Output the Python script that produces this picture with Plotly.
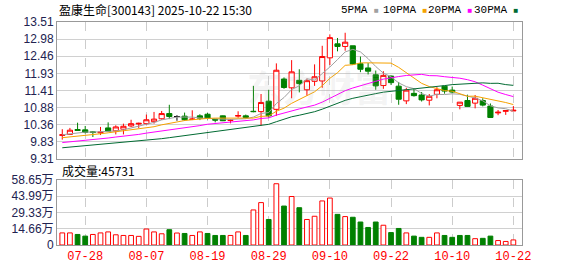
import plotly.graph_objects as go
import numpy as np

dates = [
    "2025-07-23", "2025-07-24", "2025-07-25", "2025-07-28", "2025-07-29", "2025-07-30", "2025-07-31",
    "2025-08-01", "2025-08-04", "2025-08-05", "2025-08-06", "2025-08-07", "2025-08-08", "2025-08-11",
    "2025-08-12", "2025-08-13", "2025-08-14", "2025-08-15", "2025-08-18", "2025-08-19", "2025-08-20",
    "2025-08-21", "2025-08-22", "2025-08-25", "2025-08-26", "2025-08-27", "2025-08-28", "2025-08-29",
    "2025-09-01", "2025-09-02", "2025-09-03", "2025-09-04", "2025-09-05", "2025-09-08", "2025-09-09",
    "2025-09-10", "2025-09-11", "2025-09-12", "2025-09-15", "2025-09-16", "2025-09-17", "2025-09-18",
    "2025-09-19", "2025-09-22", "2025-09-23", "2025-09-24", "2025-09-25", "2025-09-26", "2025-09-29",
    "2025-09-30", "2025-10-09", "2025-10-10", "2025-10-13", "2025-10-14", "2025-10-15", "2025-10-16",
    "2025-10-17", "2025-10-20", "2025-10-21", "2025-10-22",
]

open_ = [10.03, 10.06, 10.21, 10.20, 10.14, 10.11, 10.26, 10.17, 10.22, 10.32,
         10.38, 10.39, 10.45, 10.54, 10.70, 10.61, 10.62, 10.52, 10.63, 10.68,
         10.52, 10.63, 10.49, 10.62, 10.63, 10.77, 10.76, 11.08, 10.83, 11.76,
         11.49, 11.72, 11.43, 11.69, 11.70, 12.41, 12.84, 12.76, 12.78, 12.23,
         12.10, 11.89, 11.56, 11.85, 11.54, 11.09, 11.32, 11.27, 11.11, 11.29,
         11.54, 11.42, 10.95, 11.10, 11.02, 11.10, 10.93, 10.72, 10.77, 10.78]
high = [10.22, 10.26, 10.42, 10.32, 10.16, 10.29, 10.43, 10.34, 10.39, 10.51,
        10.42, 10.67, 10.75, 10.78, 10.97, 10.65, 10.73, 10.80, 10.68, 10.72,
        10.53, 10.64, 10.53, 10.77, 10.67, 11.55, 11.30, 11.43, 12.24, 11.81,
        12.34, 12.06, 11.77, 12.21, 12.78, 13.13, 13.02, 13.18, 12.78, 12.45,
        12.25, 12.02, 12.00, 11.87, 11.67, 11.49, 11.46, 11.36, 11.30, 11.51,
        11.54, 11.53, 11.05, 11.28, 11.27, 11.17, 11.01, 10.81, 10.79, 10.93]
low = [9.90, 10.05, 10.18, 10.09, 9.98, 10.04, 10.14, 10.06, 10.06, 10.29,
       10.26, 10.34, 10.39, 10.51, 10.53, 10.48, 10.48, 10.50, 10.50, 10.52,
       10.43, 10.47, 10.40, 10.57, 10.55, 10.74, 10.33, 10.58, 10.63, 11.46,
       11.17, 11.35, 11.25, 11.55, 11.49, 12.19, 12.61, 12.63, 12.20, 11.97,
       11.90, 11.43, 11.46, 11.58, 10.97, 10.99, 11.22, 11.07, 10.95, 11.17,
       11.31, 11.32, 10.83, 10.92, 10.86, 10.92, 10.58, 10.65, 10.66, 10.78]
close = [10.05, 10.19, 10.18, 10.12, 10.12, 10.13, 10.16, 10.29, 10.31, 10.39,
         10.40, 10.51, 10.53, 10.70, 10.61, 10.61, 10.51, 10.53, 10.56, 10.55,
         10.50, 10.48, 10.50, 10.64, 10.58, 10.76, 11.04, 10.63, 12.03, 11.50,
         11.98, 11.62, 11.71, 11.83, 12.45, 13.03, 12.76, 12.89, 12.22, 12.06,
         12.00, 11.55, 11.87, 11.65, 11.14, 11.42, 11.25, 11.12, 11.23, 11.43,
         11.39, 11.36, 11.05, 10.92, 11.17, 10.96, 10.58, 10.74, 10.79, 10.80]

# volume in units of 10,000 (万)
volume_wan = [10.9, 10.9, 9.5, 8.0, 9.5, 10.9, 11.8, 9.2, 8.6, 8.6,
              7.8, 14.4, 11.8, 10.1, 13.8, 10.8, 10.4, 8.6, 11.8, 10.4,
              8.6, 8.6, 8.6, 11.8, 8.6, 31.6, 38.2, 23.0, 55.2, 35.1,
              43.7, 33.6, 23.0, 25.9, 39.7, 42.3, 27.6, 25.6, 25.0, 20.7,
              15.8, 20.7, 17.8, 11.2, 14.9, 10.9, 8.0, 6.9, 6.9, 10.9,
              8.6, 6.9, 8.6, 8.6, 5.7, 6.0, 8.0, 4.0, 3.2, 4.5731]

# moving-average values before a full window is available
ma5_lead = [10.05, 10.08, 10.11, 10.13]
ma10_lead = [9.96, 9.98, 10.00, 10.03, 10.05, 10.08, 10.11, 10.14, 10.17]
ma20_lead = [9.81, 9.83, 9.86, 9.88, 9.90, 9.92, 9.95, 9.98, 10.00, 10.03,
             10.06, 10.10, 10.13, 10.16, 10.19, 10.22, 10.26, 10.30, 10.33]
ma30_lead = [9.65, 9.67, 9.69, 9.71, 9.73, 9.75, 9.77, 9.79, 9.81, 9.83,
             9.85, 9.88, 9.90, 9.93, 9.96, 9.99, 10.02, 10.05, 10.08, 10.11,
             10.14, 10.17, 10.20, 10.23, 10.26, 10.29, 10.33, 10.37, 10.45]

price_ticks = [9.31, 9.83, 10.36, 10.88, 11.41, 11.93, 12.46, 12.98, 13.51]
vol_ticks = [0, 14.66, 29.33, 43.99, 58.65]
tick_dates = ["2025-07-28", "2025-08-07", "2025-08-19", "2025-08-29",
              "2025-09-10", "2025-09-22", "2025-10-10", "2025-10-22"]

stock_name = "盈康生命"
stock_code = "300143"
timestamp = "2025-10-22 15:30"

RED = "#ff0000"
GREEN = "#008000"
ma_colors = {5: "#a0a0a0", 10: "#f5a200", 20: "#ff00ff", 30: "#006a32"}
leads = {5: ma5_lead, 10: ma10_lead, 20: ma20_lead, 30: ma30_lead}

n = len(dates)
c = np.array(close)


def moving_average(period, lead):
    vals = list(lead)
    for i in range(len(lead), n):
        vals.append(c[i - period + 1:i + 1].mean())
    return vals


fig = go.Figure()

# moving averages
for p in (5, 10, 20, 30):
    fig.add_trace(go.Scatter(
        x=dates, y=moving_average(p, leads[p]), mode="lines",
        line=dict(color=ma_colors[p], width=1), hoverinfo="skip",
        showlegend=False, xaxis="x", yaxis="y"))

# candles
groups = [
    ([i for i in range(n) if close[i] > open_[i]], RED, "white"),
    ([i for i in range(n) if close[i] < open_[i]], GREEN, GREEN),
    ([i for i in range(n) if close[i] == open_[i]], "#000000", "#000000"),
]
for sel, lc, fc in groups:
    if not sel:
        continue
    style = dict(line=dict(color=lc, width=1), fillcolor=fc)
    fig.add_trace(go.Candlestick(
        x=[dates[i] for i in sel],
        open=[open_[i] for i in sel], high=[high[i] for i in sel],
        low=[low[i] for i in sel], close=[close[i] for i in sel],
        increasing=style, decreasing=style, whiskerwidth=0,
        hoverinfo="skip", showlegend=False, xaxis="x", yaxis="y"))

# volume bars (red if close >= previous close)
up_vol = [close[i] >= (close[i - 1] if i > 0 else open_[i]) for i in range(n)]
fig.add_trace(go.Bar(
    x=dates, y=volume_wan, width=0.62,
    marker=dict(color=["white" if u else GREEN for u in up_vol],
                line=dict(color=[RED if u else GREEN for u in up_vol], width=1)),
    hoverinfo="skip", showlegend=False, xaxis="x2", yaxis="y2"))

W, H = 578, 276
ml, mr, mt, mb = 55, 56, 22, 21
ph = H - mt - mb


def py(ypix):
    return (H - mb - ypix) / ph


def px(xpix):
    return (xpix - ml) / (W - ml - mr)


axis_font = dict(family="Liberation Sans, Arial, Noto Sans CJK SC", size=12, color="#222250")
xrange = [-0.69, 60.13]
common_x = dict(type="category", categoryorder="array", categoryarray=dates,
                range=xrange, tickvals=tick_dates, showgrid=True,
                gridcolor="#cccccc", griddash="dash", gridwidth=1,
                showline=True, linecolor="#999999", linewidth=1, mirror=True,
                ticks="", zeroline=False, fixedrange=True)

fig.update_layout(
    width=W, height=H,
    margin=dict(l=ml, r=mr, t=mt, b=mb, pad=0),
    paper_bgcolor="white", plot_bgcolor="white",
    showlegend=False, boxgap=0.25, boxgroupgap=0.1,
    xaxis=dict(domain=[0, 1], anchor="y", showticklabels=False,
               rangeslider=dict(visible=False), **common_x),
    xaxis2=dict(domain=[0, 1], anchor="y2", matches="x",
                ticktext=[d[5:] for d in tick_dates], showticklabels=True,
                tickfont=dict(family="Liberation Mono, DejaVu Sans Mono", size=12, color=RED),
                rangeslider=dict(visible=False), **common_x),
    yaxis=dict(domain=[py(165), 1], range=[price_ticks[0], price_ticks[-1]],
               tickvals=price_ticks, ticktext=[f"{v:.2f}" for v in price_ticks],
               tickfont=axis_font, showgrid=True, gridcolor="#d0d0d0",
               showline=True, linecolor="#999999", mirror=True, ticks="",
               zeroline=False, fixedrange=True),
    yaxis2=dict(domain=[0, py(187)], range=[vol_ticks[0], vol_ticks[-1]],
                tickvals=vol_ticks,
                ticktext=["0" if v == 0 else f"{v:.2f}万" for v in vol_ticks],
                tickfont=axis_font, showgrid=True, gridcolor="#d0d0d0",
                showline=True, linecolor="#999999", mirror=True, ticks="",
                zeroline=False, fixedrange=True),
)

title_font = dict(family="Noto Sans CJK SC, Liberation Mono", size=12, color="#000000")
annotations = [
    dict(text=f"{stock_name}[{stock_code}] {timestamp}", xref="paper", yref="paper",
         x=0, y=py(9), xanchor="left", yanchor="middle", showarrow=False, font=title_font),
    dict(text=f"成交量:{int(round(volume_wan[-1] * 10000))}", xref="paper", yref="paper",
         x=px(58), y=py(177), xanchor="left", yanchor="middle", showarrow=False, font=title_font),
    dict(text="<b>东方财富</b>", xref="paper", yref="paper", x=px(318), y=py(89),
         xanchor="center", yanchor="middle", showarrow=False,
         font=dict(family="Noto Sans CJK SC", size=36, color="rgba(170,170,170,0.15)")),
]
legend_x = {5: 338, 10: 380, 20: 426, 30: 472}
for p in (5, 10, 20, 30):
    annotations.append(dict(
        text=f"{p}PMA <span style='color:{ma_colors[p]};font-size:8px'>■</span>",
        xref="paper", yref="paper", x=px(legend_x[p]), y=py(9),
        xanchor="left", yanchor="middle", showarrow=False,
        font=dict(family="Liberation Mono, DejaVu Sans Mono", size=11, color="#000000")))
fig.update_layout(annotations=annotations)

fig.write_html("out.html")
